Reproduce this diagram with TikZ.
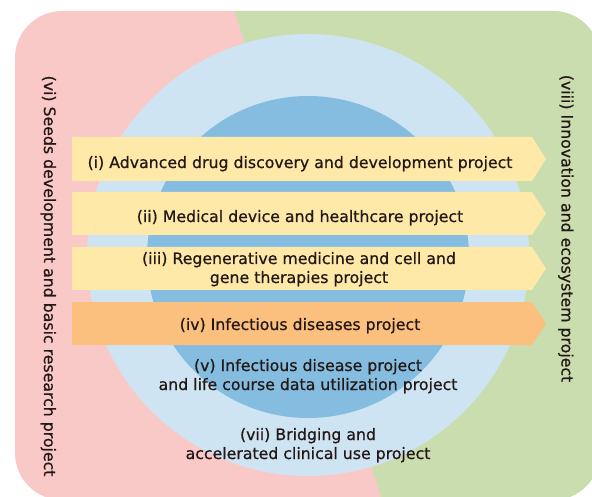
\documentclass[tikz,border=0pt]{standalone}
\usepackage{fontspec}
\setmainfont{DejaVu Sans}
\newfontfamily\lblfont{DejaVu Sans}[FakeBold=0.7]
\definecolor{pinkc}{HTML}{F9C9C8}
\definecolor{greenc}{HTML}{C9DDAE}
\definecolor{lightblue}{HTML}{CFE4F3}
\definecolor{darkblue}{HTML}{84BDE0}
\definecolor{barY}{HTML}{FEE9A9}
\definecolor{barO}{HTML}{FBBF7E}
\definecolor{txt}{HTML}{231815}
\tikzset{
  lbl/.style={font=\lblfont\fontsize{15.75}{19}\selectfont, text=txt, inner sep=0pt, anchor=base},
  vlbl/.style={lbl, rotate=-90},
  outerbox/.style={rounded corners=47pt},
}
\begin{document}
\begin{tikzpicture}[x=1pt,y=-1pt]
\useasboundingbox (0,0) rectangle (592,497);
% background halves
\fill[pinkc, outerbox] (15,11) rectangle (600,500);
\begin{scope}
  \clip[outerbox] (15,11) rectangle (600,500);
  \fill[greenc] (231.7,0) -- (384,507) -- (620,507) -- (620,0) -- cycle;
\end{scope}
% circles
\fill[lightblue] (308,255) circle (221pt);
\fill[darkblue] (308,257) circle (161pt);
% bars
\foreach \t/\b/\c in {137/181/barY,192/235/barY,247/290/barY,302/345/barO}{
  \fill[\c] (72,\t) -- (532,\t) -- (546,{(\t+\b)/2}) -- (532,\b) -- (72,\b) -- cycle;
}
% bar texts
\node[lbl] (t1) at (300,168) {(i) Advanced drug discovery and development project};
\node[lbl] (t2) at (300,222) {(ii) Medical device and healthcare project};
\node[lbl] (t3a) at (299,264) {(iii) Regenerative medicine and cell and};
\node[lbl] (t3b) at (299,283) {gene therapies project};
\node[lbl] (t4) at (300,330) {(iv) Infectious diseases project};
% circle texts
\node[lbl] (t5a) at (308,371) {(v) Infectious disease project};
\node[lbl] (t5b) at (308,390) {and life course data utilization project};
\node[lbl] (t7a) at (308,440) {(vii) Bridging and};
\node[lbl] (t7b) at (308,459) {accelerated clinical use project};
% vertical texts
\node[vlbl] (t6) at (44,276) {(vi) Seeds development and basic research project};
\node[vlbl] (t8) at (561.5,228.5) {(viii) Innovation and ecosystem project};
\end{tikzpicture}
\end{document}
